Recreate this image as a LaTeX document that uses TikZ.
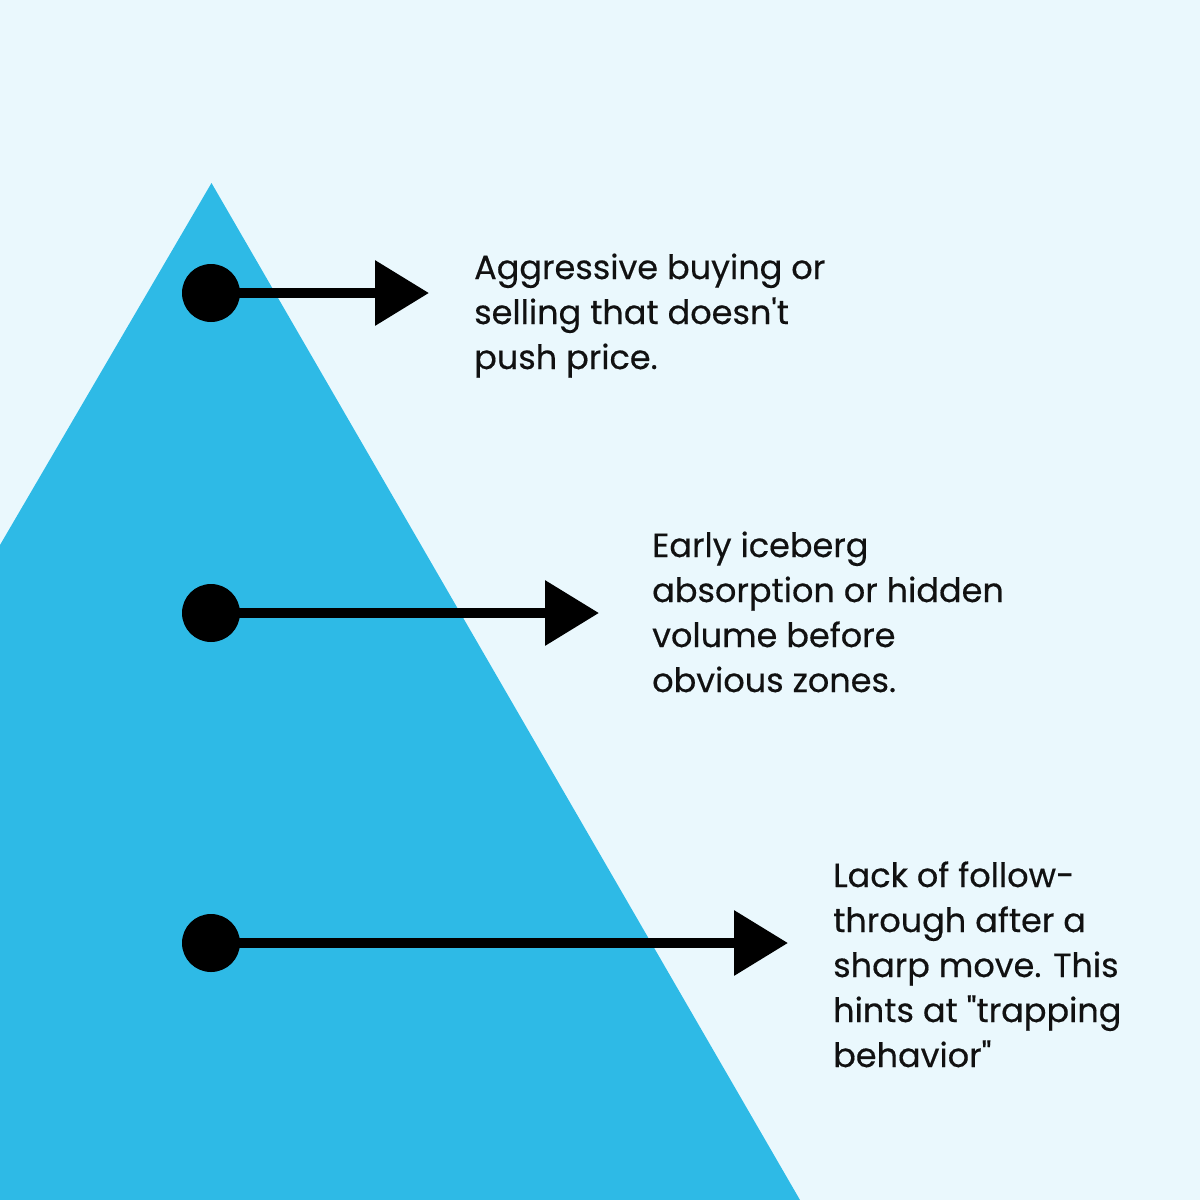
\documentclass[tikz,border=0pt]{standalone}
\usepackage{fontspec}
\newfontfamily\pop{Poppins}[FakeBold=0.4]
\usetikzlibrary{arrows.meta}
\definecolor{bgc}{HTML}{EAF8FD}
\definecolor{ice}{HTML}{2EBAE6}
\definecolor{txt}{HTML}{111111}
\tikzset{
  dot/.style={circle,fill=black,minimum size=58pt,inner sep=0pt},
  conn/.style={line width=10pt,-{Triangle[length=54pt,width=63pt]}},
  lbl/.style={anchor=base west,inner sep=0pt,font=\pop\fontsize{33.5}{45}\selectfont,text=txt}
}
\begin{document}
\begin{tikzpicture}[x=1pt,y=-1pt]
\fill[bgc] (0,0) rectangle (1200,1200);
\useasboundingbox (0,0) rectangle (1200,1200);
\fill[ice] (0,545) -- (211.5,183) -- (800,1200) -- (0,1200) -- cycle;
% dots and arrow tips
\node[dot] (d1) at (211,293) {};
\node[dot] (d2) at (211,613) {};
\node[dot] (d3) at (211,943) {};
\coordinate (h1) at (429,293);
\coordinate (h2) at (599,613);
\coordinate (h3) at (788,943);
\draw[conn] (d1.center) -- (h1);
\draw[conn] (d2.center) -- (h2);
\draw[conn] (d3.center) -- (h3);
% block 1
\node[lbl] (a1) at (474,279) {Aggressive buying or};
\node[lbl] (a2) at (474,324) {selling that doesn't};
\node[lbl] (a3) at (474,369) {push price.};
% block 2
\node[lbl] (b1) at (652,557) {Early iceberg};
\node[lbl] (b2) at (652,602) {absorption or hidden};
\node[lbl] (b3) at (652,647) {volume before};
\node[lbl] (b4) at (652,692) {obvious zones.};
% block 3
\node[lbl] (c1) at (833,887) {Lack of follow-};
\node[lbl] (c2) at (833,932) {through after a};
\node[lbl] (c3) at (833,977) {sharp move. This};
\node[lbl] (c4) at (833,1022) {hints at "trapping};
\node[lbl] (c5) at (833,1067) {behavior"};
\end{tikzpicture}
\end{document}
